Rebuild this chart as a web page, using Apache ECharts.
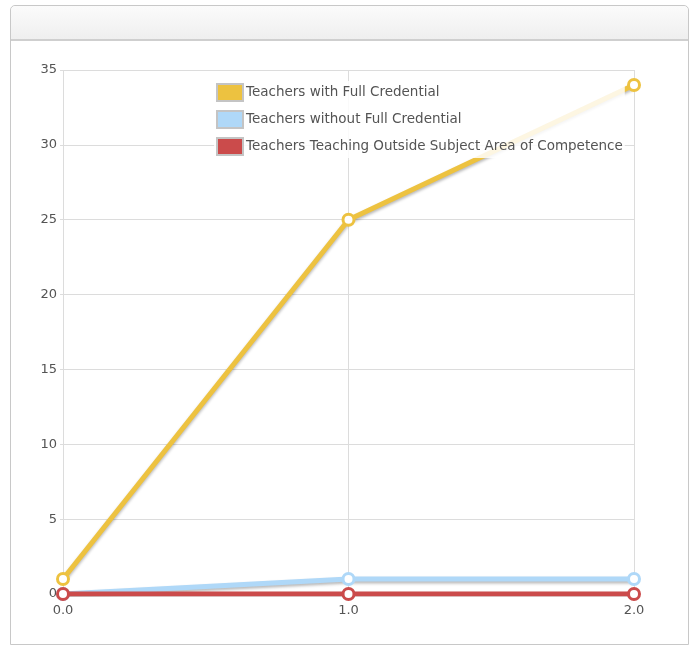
<!DOCTYPE html>
<html>
<head>
<meta charset="utf-8">
<script src="https://cdn.jsdelivr.net/npm/echarts@6/dist/echarts.min.js"></script>
<style>
  html, body { margin: 0; padding: 0; background: #fff; }
  #wrap { position: relative; width: 697px; height: 649px; overflow: hidden; }
  #panel {
    position: absolute; left: 10px; top: 5px; width: 679px; height: 640px;
    border: 1px solid #c8c8c8; border-radius: 5px 5px 0 0; box-sizing: border-box;
  }
  #head {
    position: absolute; left: 0; top: 0; right: 0; height: 33px;
    background: linear-gradient(#fbfbfb, #efefef);
    border-bottom: 2px solid #cfcfcf; border-radius: 5px 5px 0 0;
  }
  #chart { position: absolute; left: 0; top: 0; width: 697px; height: 649px; }
</style>
</head>
<body>
<div id="wrap">
  <div id="panel"><div id="head"></div></div>
  <div id="chart"></div>
</div>
<script>
// Staffing counts over three points
const xValues = [0, 1, 2];
const fullCredential = [1, 25, 34];
const withoutCredential = [0, 1, 1];
const outsideSubject = [0, 0, 0];
const seriesNames = [
  'Teachers with Full Credential',
  'Teachers without Full Credential',
  'Teachers Teaching Outside Subject Area of Competence'
];
const seriesColors = ['#edc240', '#afd8f8', '#cb4b4b'];
const seriesData = [fullCredential, withoutCredential, outsideSubject];

const chart = echarts.init(document.getElementById('chart'), null, { renderer: 'canvas' });

const series = seriesData.map((vals, i) => ({
  name: seriesNames[i],
  type: 'line',
  data: vals.map((v, k) => [xValues[k], v]),
  symbol: 'circle',
  symbolSize: 11,
  z: 2 + i,
  itemStyle: { color: '#fff', borderColor: seriesColors[i], borderWidth: 3 },
  lineStyle: {
    color: seriesColors[i], width: 5,
    shadowColor: 'rgba(0,0,0,0.28)', shadowBlur: 3, shadowOffsetY: 2
  },
  emphasis: { disabled: true },
  animation: false
}));

chart.setOption({
  animation: false,
  grid: { left: 63, right: 63, top: 70, bottom: 55 },
  xAxis: {
    type: 'value', min: 0, max: 2, interval: 1,
    axisLine: { show: false },
    axisTick: { show: false },
    splitLine: { show: true, lineStyle: { color: '#dcdcdc', width: 1 } },
    axisLabel: {
      color: '#545454', fontFamily: 'DejaVu Sans', fontSize: 13, margin: 10,
      formatter: v => v.toFixed(1)
    }
  },
  yAxis: {
    type: 'value', min: 0, max: 35, interval: 5,
    axisLine: { show: false },
    axisTick: { show: true, length: 3, lineStyle: { color: '#dcdcdc' } },
    splitLine: { show: true, lineStyle: { color: '#dcdcdc', width: 1 } },
    axisLabel: { color: '#545454', fontFamily: 'DejaVu Sans', fontSize: 13, margin: 6 }
  },
  legend: {
    orient: 'vertical', left: 214, top: 81,
    itemWidth: 26, itemHeight: 17, itemGap: 8,
    padding: [2, 2, 2, 2],
    backgroundColor: 'rgba(255,255,255,0.85)',
    icon: 'rect',
    selectedMode: false,
    data: seriesNames.map((n, i) => ({
      name: n,
      itemStyle: { color: seriesColors[i], borderColor: '#c4c4c4', borderWidth: 2 }
    })),
    textStyle: { color: '#545454', fontFamily: 'DejaVu Sans', fontSize: 13.5, padding: [0, 0, 0, -2] }
  },
  series: series
});
</script>
</body>
</html>
